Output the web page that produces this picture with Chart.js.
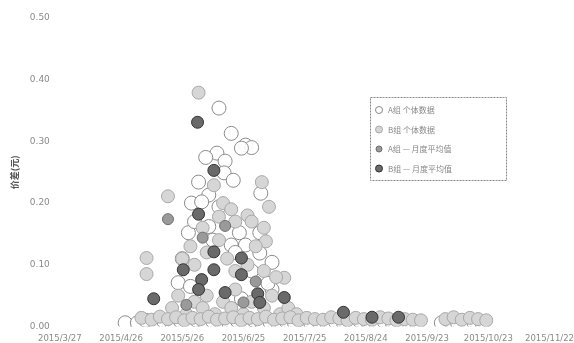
<!DOCTYPE html>
<html>
<head>
<meta charset="utf-8">
<script src="https://cdn.jsdelivr.net/npm/chart.js@4/dist/chart.umd.min.js"></script>
<style>
  body { margin: 0; background: #fff; }
  canvas { display: block; }
</style>
</head>
<body>
<canvas id="grafico" width="574" height="343"></canvas>
<script>
// eixo x em dias a partir de 2015/3/27, um rótulo a cada 30 dias
const tickLabels = ['2015/3/27', '2015/4/26', '2015/5/26', '2015/6/25', '2015/7/25',
                    '2015/8/24', '2015/9/23', '2015/10/23', '2015/11/22'];
const yTicks = [0, 0.1, 0.2, 0.3, 0.4, 0.5];
const seriesNames = ['A组 个体数据', 'B组 个体数据', 'A组 — 月度平均值', 'B组 — 月度平均值'];

// série A (círculos vazados)
const aDias = [78, 84, 91, 94, 89, 77, 71.5, 81, 80.5, 85, 68, 98.5, 73, 64.5, 69.5, 78, 73, 63, 88, 98,
               84, 91, 98, 104, 58, 64, 89, 104, 32, 60, 75, 86, 94, 66, 102,
               38, 42, 47, 51, 55, 59, 63, 67, 71, 75, 79, 83, 87, 91, 95, 99, 103, 107, 111, 115,
               119, 123, 127, 131, 135, 139, 143, 147, 151, 155, 159, 163, 167, 171, 175,
               187, 191, 195, 199, 203, 207];
const aValores = [0.354, 0.313, 0.294, 0.290, 0.289, 0.281, 0.274, 0.268, 0.249, 0.237, 0.234, 0.216, 0.213, 0.200, 0.202, 0.194, 0.162, 0.152, 0.152, 0.152,
                  0.132, 0.132, 0.119, 0.104, 0.071, 0.065, 0.045, 0.060, 0.006, 0.110, 0.140, 0.120, 0.090, 0.170, 0.070,
                  0.006, 0.010, 0.005, 0.008, 0.004, 0.009, 0.006, 0.010, 0.005, 0.008, 0.006, 0.004, 0.009, 0.006, 0.010, 0.005, 0.007, 0.004, 0.008, 0.006,
                  0.009, 0.005, 0.007, 0.004, 0.008, 0.006, 0.005, 0.009, 0.006, 0.004, 0.008, 0.005, 0.007, 0.006, 0.005,
                  0.006, 0.009, 0.005, 0.008, 0.006, 0.005];

// série B (círculos cinza claro)
const bDias = [68, 75.5, 99, 102.5, 53, 78, 101, 42.5, 42.5, 110,
               55, 58, 62, 66, 70, 72, 76, 80, 84, 86, 90, 94, 100, 104, 108, 112, 116,
               60, 66, 72, 78, 82, 86, 92, 96, 100, 106, 64, 70, 86, 92, 80, 84, 94, 100,
               40, 45, 49, 53, 57, 61, 65, 69, 73, 77, 81, 85, 89, 93, 97, 101, 105, 109, 113, 117,
               121, 125, 129, 133, 137, 141, 145, 149, 153, 157, 161, 165, 169, 173, 177,
               189, 193, 197, 201, 205, 209];
const bValores = [0.379, 0.229, 0.234, 0.194, 0.211, 0.178, 0.138, 0.111, 0.085, 0.079,
                  0.030, 0.050, 0.020, 0.040, 0.030, 0.050, 0.020, 0.040, 0.030, 0.060, 0.020, 0.040, 0.030, 0.050, 0.020, 0.030, 0.020,
                  0.110, 0.100, 0.120, 0.140, 0.110, 0.090, 0.100, 0.130, 0.090, 0.080, 0.130, 0.160, 0.170, 0.180, 0.200, 0.190, 0.170, 0.160,
                  0.014, 0.011, 0.016, 0.012, 0.015, 0.010, 0.014, 0.012, 0.016, 0.011, 0.013, 0.015, 0.010, 0.014, 0.012, 0.016, 0.011, 0.013, 0.015, 0.010,
                  0.014, 0.012, 0.011, 0.015, 0.013, 0.010, 0.014, 0.012, 0.011, 0.015, 0.013, 0.010, 0.012, 0.011, 0.010,
                  0.012, 0.015, 0.011, 0.014, 0.012, 0.010];

// série C (cinza médio)
const cDias = [53, 81, 70, 96, 62, 90];
const cValores = [0.174, 0.163, 0.144, 0.073, 0.035, 0.039];

// série D (escuros)
const dDias = [67.5, 75.5, 68, 75.5, 89, 60.5, 75.5, 69.5, 89, 68, 81, 97, 46, 110, 98, 139, 153, 166];
const dValores = [0.331, 0.253, 0.182, 0.121, 0.111, 0.092, 0.092, 0.076, 0.084, 0.060, 0.055, 0.053, 0.045, 0.047, 0.039, 0.023, 0.015, 0.015];

const pontos = (xs, ys) => xs.map((x, i) => ({ x: x, y: ys[i] }));

const estilos = [
    { bg: 'rgba(255,255,255,0.9)', border: '#8a8a8a', r: 7 },
    { bg: '#d6d6d6', border: '#a8a8a8', r: 6.5 },
    { bg: '#9a9a9a', border: '#6e6e6e', r: 5.5 },
    { bg: '#6a6a6a', border: '#333333', r: 6 }
];
const dadosSeries = [pontos(aDias, aValores), pontos(bDias, bValores), pontos(cDias, cValores), pontos(dDias, dValores)];

// legenda desenhada dentro da área do gráfico, com borda tracejada
const legendaInterna = {
    id: 'legendaInterna',
    afterDraw(chart) {
        const ctx = chart.ctx;
        const x0 = 370, y0 = 97, w = 136, h = 83;
        ctx.save();
        ctx.fillStyle = '#fff';
        ctx.fillRect(x0, y0, w, h);
        ctx.setLineDash([2, 1]);
        ctx.strokeStyle = '#888';
        ctx.lineWidth = 1;
        ctx.strokeRect(x0 + 0.5, y0 + 0.5, w, h);
        ctx.setLineDash([]);
        chart.data.datasets.forEach((ds, i) => {
            const cy = y0 + 13 + i * 19.5;
            const e = estilos[i];
            ctx.beginPath();
            ctx.arc(x0 + 9, cy, i === 2 ? 3 : 3.5, 0, Math.PI * 2);
            ctx.fillStyle = e.bg;
            ctx.fill();
            ctx.strokeStyle = e.border;
            ctx.stroke();
            ctx.fillStyle = '#888';
            ctx.font = '8px "Noto Sans CJK SC", "DejaVu Sans", sans-serif';
            ctx.textBaseline = 'middle';
            ctx.fillText(ds.label, x0 + 18, cy);
        });
        ctx.restore();
    }
};

new Chart(document.getElementById('grafico'), {
    type: 'scatter',
    data: {
        datasets: dadosSeries.map((d, i) => ({
            label: seriesNames[i],
            data: d,
            backgroundColor: estilos[i].bg,
            borderColor: estilos[i].border,
            borderWidth: 1,
            pointRadius: estilos[i].r,
            order: 4 - i
        }))
    },
    options: {
        responsive: false,
        animation: false,
        layout: { padding: { top: 18, left: 9, right: 0, bottom: 0 } },
        plugins: {
            legend: { display: false },
            tooltip: { enabled: false }
        },
        scales: {
            x: {
                type: 'linear',
                min: 0,
                max: 240,
                grid: { display: false },
                border: { display: false },
                afterBuildTicks: axis => { axis.ticks = tickLabels.map((t, i) => ({ value: i * 30 })); },
                ticks: {
                    autoSkip: false,
                    maxRotation: 0,
                    padding: 0,
                    color: '#8a8a8a',
                    font: { size: 8.5, family: '"DejaVu Sans", sans-serif', lineHeight: 1 },
                    callback: (v) => tickLabels[Math.round(v / 30)]
                }
            },
            y: {
                min: 0,
                max: 0.5,
                grid: { display: false },
                border: { display: false },
                afterBuildTicks: axis => { axis.ticks = yTicks.map(v => ({ value: v })); },
                title: {
                    display: true,
                    text: '价差(元)',
                    color: '#555',
                    font: { size: 9, family: '"Noto Sans CJK SC", sans-serif', weight: 'bold' },
                    padding: { top: 0, bottom: 8 }
                },
                ticks: {
                    padding: 2,
                    color: '#8a8a8a',
                    font: { size: 9, family: '"DejaVu Sans", sans-serif' },
                    callback: v => v.toFixed(2)
                }
            }
        }
    },
    plugins: [legendaInterna]
});
</script>
</body>
</html>
